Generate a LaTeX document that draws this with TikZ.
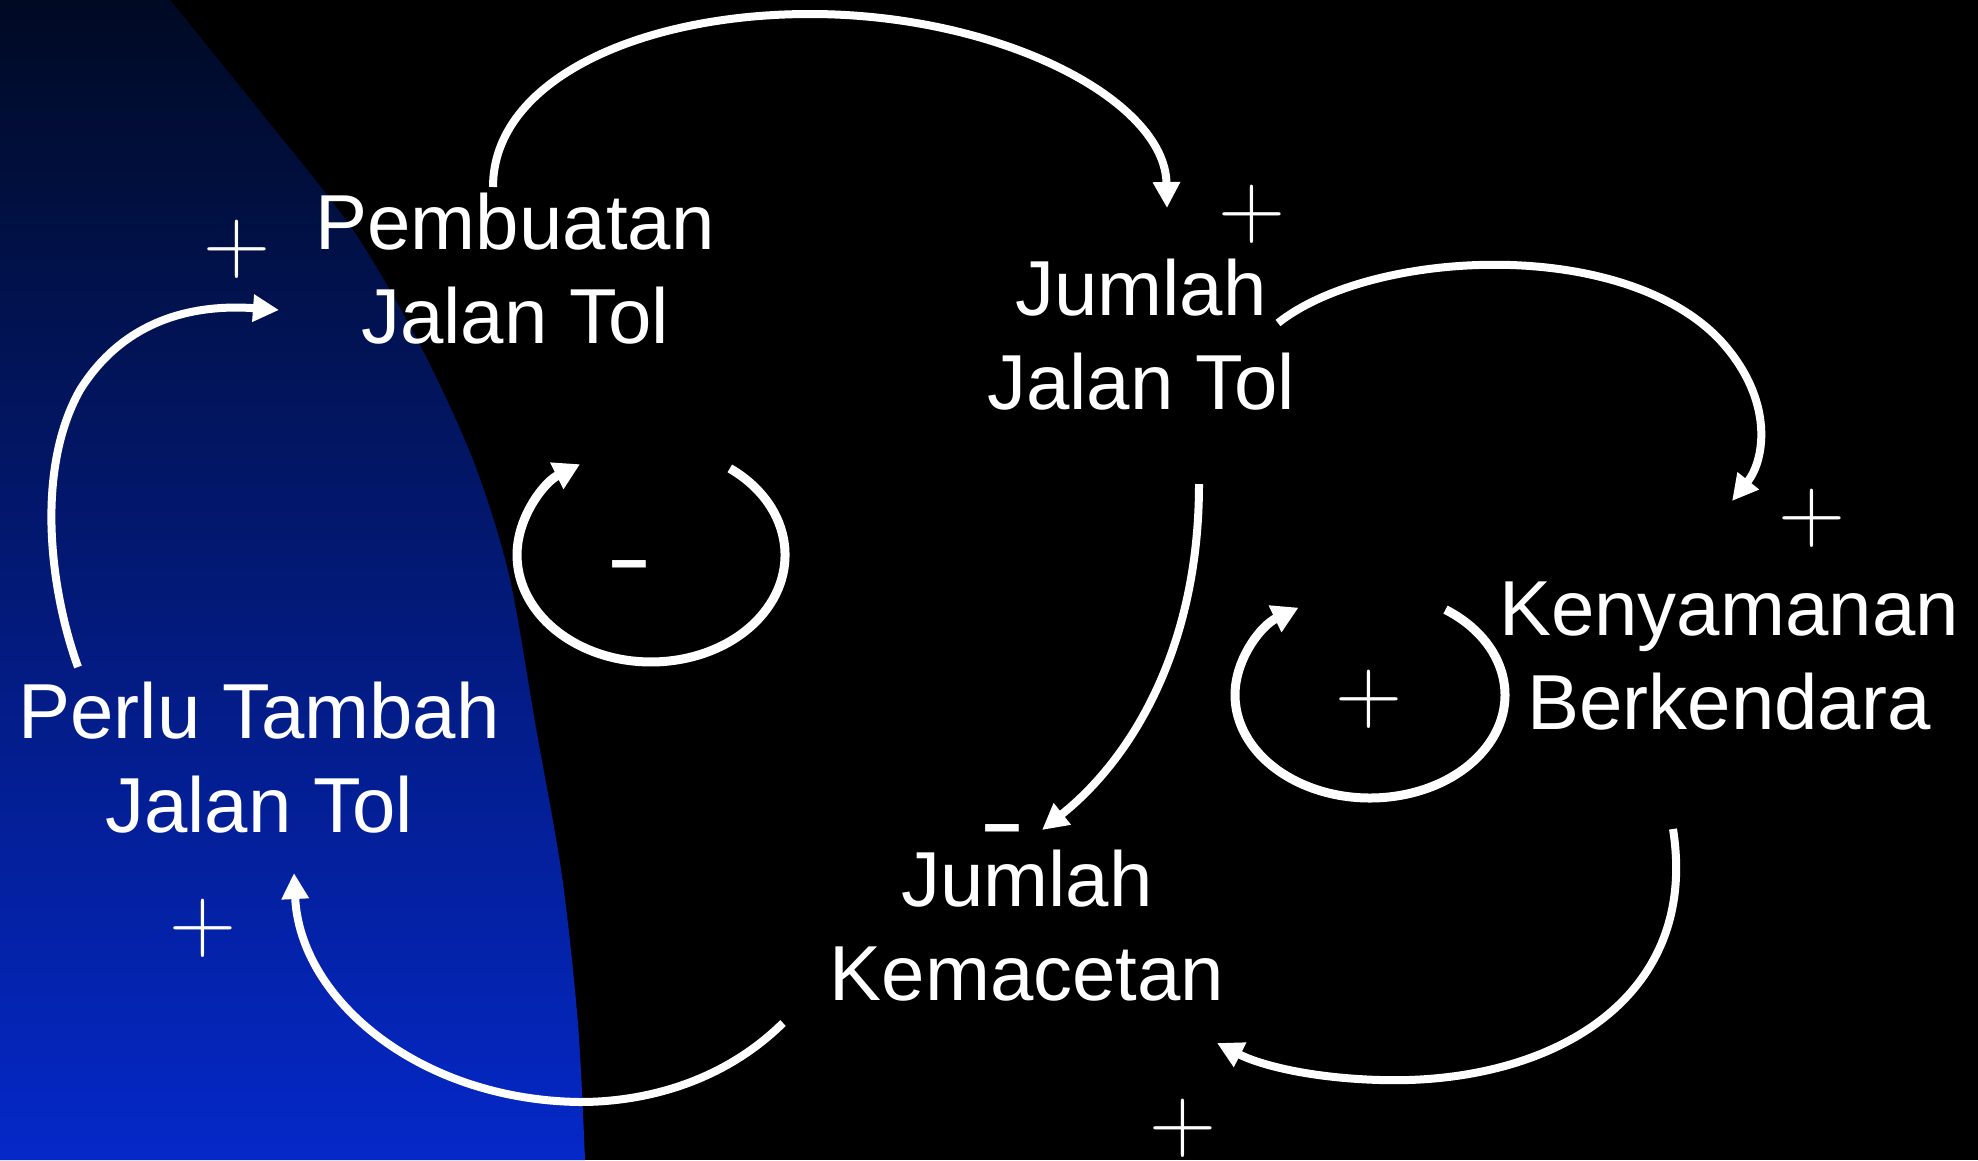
\documentclass[tikz,border=0pt]{standalone}
\usepackage{fontspec}
\newfontfamily\arialf{Liberation Sans}
\usetikzlibrary{arrows.meta}
\definecolor{navytop}{RGB}{0,10,36}
\definecolor{navymid}{RGB}{3,38,155}
\definecolor{navybot}{RGB}{5,40,200}
\begin{document}
\begin{tikzpicture}[x=1pt,y=-1pt,
  lbl/.style={text=white, align=center, font=\arialf\fontsize{78}{94}\selectfont, inner sep=0pt, anchor=base},
  pl/.style={text=white, inner sep=0pt, font=\fontsize{93}{93}\selectfont},
  mn/.style={text=white, inner sep=0pt, font=\arialf\fontsize{95}{95}\selectfont, xscale=1.45, anchor=base},
  link/.style={draw=white, line width=8pt, -{Triangle[width=26pt,length=26pt]}},
  loopar/.style={draw=white, line width=9pt, -{Triangle[width=28pt,length=26pt]}}]
\useasboundingbox (0,0) rectangle (1978,1160);
\fill[black] (0,0) rectangle (1978,1160);
\shade[top color=navytop, middle color=navymid, bottom color=navybot]
  (0,0) -- plot[smooth] coordinates {(170,0) (263,115) (353,230) (420,345) (473,460) (509,575) (536,728) (562,876) (578,1024) (585,1160)} -- (0,1160) -- cycle;

% concept nodes (base = baseline of the last line)
\node[lbl] (pemb) at (515,343) {Pembuatan\\Jalan Tol};
\node[lbl] (jjt) at (1141,409) {Jumlah\\Jalan Tol};
\node[lbl] (keny) at (1729,729) {Kenyamanan\\Berkendara};
\node[lbl] (perlu) at (259,832) {Perlu Tambah\\Jalan Tol};
\node[lbl] (kem) at (1027,1000) {Jumlah\\Kemacetan};

% polarity signs
\node[pl] (p1) at (237,249) {+};
\node[pl] (p2) at (1252,214) {+};
\node[pl] (p3) at (1812,518) {+};
\node[pl] (p4) at (1369,699) {+};
\node[pl] (p5) at (1183,1128) {+};
\node[pl] (p6) at (203,928) {+};
\node[mn] (m1) at (629,589) {-};
\node[mn] (m2) at (1002,853) {-};

% connector ends
\coordinate (a1s) at (493,187);
\coordinate (a1e) at (1167,208);
\coordinate (a2s) at (1278,323);
\coordinate (a2e) at (1732,501);
\coordinate (a3s) at (1199,484);
\coordinate (a3e) at (1042,830);
\coordinate (a4s) at (1673,829);
\coordinate (a4e) at (1217,1043);
\coordinate (a5s) at (783,1023);
\coordinate (a5e) at (294,873);
\coordinate (a6s) at (78,667);
\coordinate (a6e) at (279,310);
\coordinate (l1s) at (729.8,468.4);
\coordinate (l2s) at (1445.5,609.6);

\draw[link] (a1s) .. controls (493,80) and (640,14) .. (810,14) .. controls (1000,14) and (1165,100) .. (a1e);
\draw[link] (a2s) .. controls (1370,250) and (1620,235) .. (1720,340) .. controls (1775,400) and (1765,460) .. (a2e);
\draw[link] (a3s) .. controls (1199,650) and (1130,760) .. (a3e);
\draw[link] (a4s) .. controls (1700,1000) and (1550,1085) .. (1380,1080) .. controls (1310,1078) and (1260,1065) .. (a4e);
\draw[link] (a5s) .. controls (720,1085) and (640,1102) .. (580,1102) .. controls (420,1100) and (300,1000) .. (a5e);
\draw[link] (a6s) .. controls (50,590) and (35,470) .. (80,390) .. controls (130,310) and (210,305) .. (a6e);

\draw[loopar] (l1s) arc[start angle=-54, end angle=238, x radius=134, y radius=107];
\draw[loopar] (l2s) arc[start angle=-56, end angle=238, x radius=135, y radius=103];
\end{tikzpicture}
\end{document}
